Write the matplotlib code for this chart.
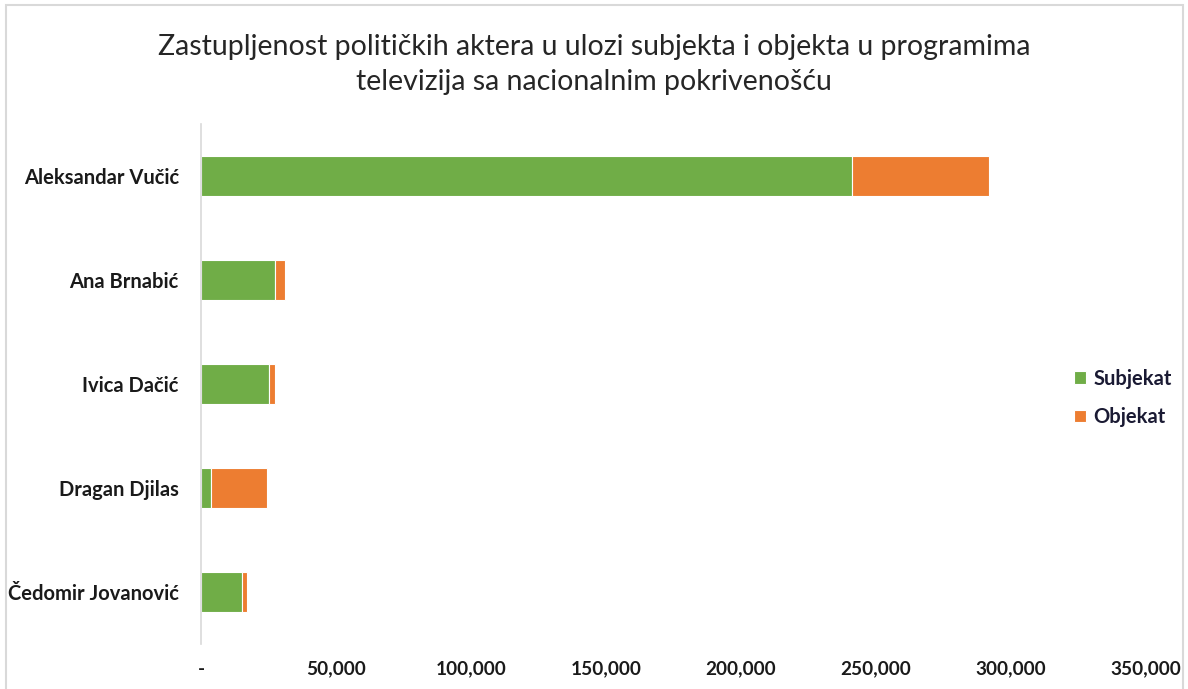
import matplotlib.pyplot as plt
from matplotlib.patches import Rectangle
from matplotlib.ticker import FuncFormatter

# data
akteri = ["Aleksandar Vučić", "Ana Brnabić", "Ivica Dačić", "Dragan Djilas", "Čedomir Jovanović"]
subjekat = [241000, 27400, 25200, 3700, 15200]
objekat = [51000, 3700, 2200, 20700, 1800]
x_ticks = [0, 50000, 100000, 150000, 200000, 250000, 300000, 350000]

GREEN = "#70AD47"
ORANGE = "#ED7D31"
W, H = 1188, 689

plt.rcParams['font.family'] = ['Lato', 'DejaVu Sans']

fig = plt.figure(figsize=(W / 100, H / 100), dpi=100)
ax = fig.add_axes([201 / W, 1 - 644 / H, 945 / W, 520 / H])

y = list(range(len(akteri)))
ax.barh(y, subjekat, height=0.38, color=GREEN, edgecolor="white", linewidth=0.8, label="Subjekat")
ax.barh(y, objekat, left=subjekat, height=0.38, color=ORANGE, edgecolor="white", linewidth=0.8, label="Objekat")

ax.set_ylim(len(akteri) - 0.5, -0.5)
ax.set_xlim(0, 350000)
ax.set_yticks(y)
ax.set_yticklabels(akteri, fontsize=14.5, fontweight="bold", color="#1a1a1a")
ax.set_xticks(x_ticks)
ax.xaxis.set_major_formatter(FuncFormatter(lambda v, p: "-" if v == 0 else f"{int(v):,}"))
for lab in ax.get_xticklabels():
    lab.set_fontsize(13.7)
    lab.set_fontweight("bold")
    lab.set_color("#1a1a1a")
ax.tick_params(axis="both", length=0)
ax.tick_params(axis="y", pad=16)
ax.tick_params(axis="x", pad=12)

for s in ["top", "right", "bottom"]:
    ax.spines[s].set_visible(False)
ax.spines["left"].set_color("#d9d9d9")
ax.spines["left"].set_linewidth(1.2)

fig.text(0.5, 1 - 47 / H, "Zastupljenost političkih aktera u ulozi subjekta i objekta u programima",
         ha="center", va="center", fontsize=20.5, color="#262626")
fig.text(0.5, 1 - 82 / H, "televizija sa nacionalnim pokrivenošću",
         ha="center", va="center", fontsize=20.5, color="#262626")

fig.legend(loc="center left", bbox_to_anchor=(1056 / W, 1 - 398 / H), frameon=False,
           prop={"size": 14.5, "weight": "bold"}, handlelength=0.6, handleheight=0.6,
           handletextpad=0.35, labelspacing=0.9, labelcolor="#1a1a33")

# outer border of the screenshot
fig.patches.append(Rectangle((6 / W, -0.05), (1183 - 6) / W, 1.05 - 5 / H,
                             transform=fig.transFigure, fill=False,
                             edgecolor="#d9d9d9", linewidth=1.5))

fig.savefig("out.png", dpi=100)
